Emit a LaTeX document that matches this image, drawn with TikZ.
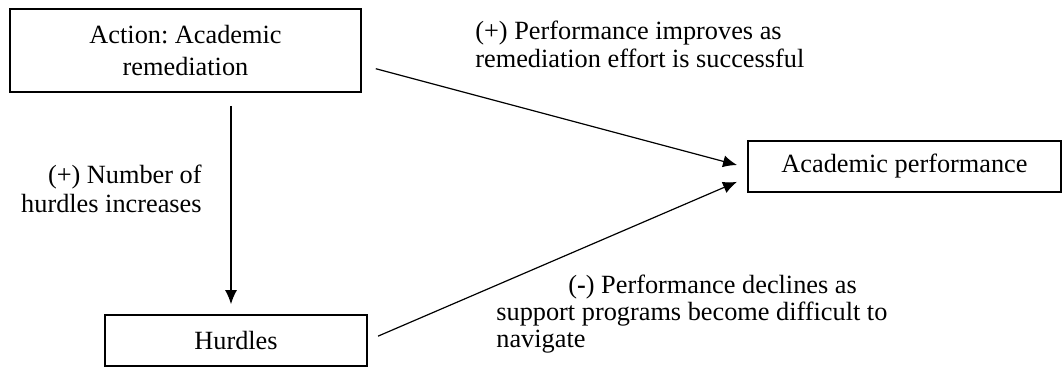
\documentclass[tikz,border=0pt]{standalone}
\usepackage{fontspec}
\setmainfont{Liberation Serif}
\usetikzlibrary{arrows.meta}
\frenchspacing
\tikzset{
  box/.style={draw, line width=0.9bp, inner sep=0pt, align=center, minimum height=25.5bp},
  lbl/.style={inner sep=0pt},
  link/.style={->, line width=0.6bp},
}
\begin{document}
\begin{tikzpicture}[x=0.5bp, y=-0.5bp, >={Latex[length=7bp, width=6bp]}, font=\fontsize{13.2}{14}\selectfont]
                    \useasboundingbox (0,0) rectangle (1062,367);
                    \node[box, minimum width=175.5bp, minimum height=41.5bp, font=\fontsize{13.2}{16}\selectfont] (act) at (185.5, 50.5) {Action: Academic\\remediation};
                    \node[box, minimum width=156.5bp] (perf) at (904.5, 166.5) {Academic performance};
                    \node[box, minimum width=131bp] (hur) at (236, 340.5) {Hurdles};
                    \draw[link, shorten <=6.5bp, shorten >=5bp] ([xshift=22.75bp]act.south) -- ([xshift=22.75bp]act.south |- hur.north);
                    \draw[link, shorten <=7.2bp, shorten >=5.2bp] ([yshift=-7.25bp]act.east) -- ([yshift=-0.6bp]perf.west);
                    \draw[link, shorten <=5.5bp, shorten >=5.5bp] (hur.east) -- ([yshift=-5.5bp]perf.west);
                    \node[lbl, anchor=base west, align=left] (improve) at (475, 67) {(+) Performance improves as\\remediation effort is successful};
                    \node[lbl, anchor=base east, align=right, font=\fontsize{13.2}{14.5}\selectfont] (number) at (202, 212) {(+) Number of\\hurdles increases};
                    \node[lbl, anchor=base west, align=left, font=\fontsize{13.2}{13.5}\selectfont] (decline) at (496, 347) {\hspace*{36bp}(\textbf{-}) Performance declines as\\support programs become difficult to\\navigate};
\end{tikzpicture}
\end{document}
